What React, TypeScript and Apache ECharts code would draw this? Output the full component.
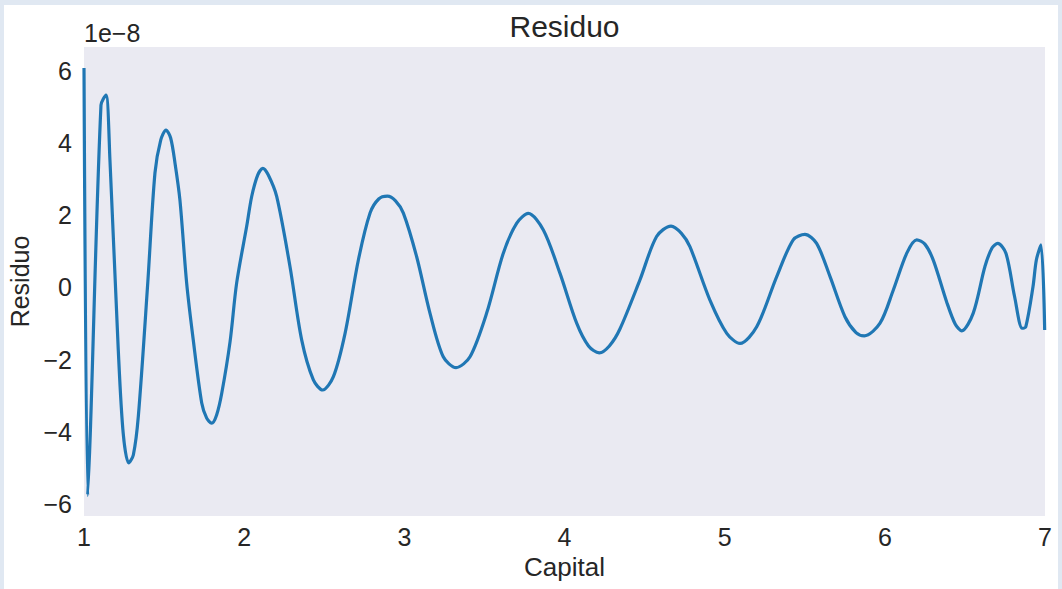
import React, { useEffect, useRef } from "react";
import * as echarts from "echarts";

// Capital grid (x) and residual values (in units of 1e-8)
const capital = [
  1.0, 1.023, 1.04, 1.106, 1.137, 1.162, 1.214, 1.245, 1.279, 1.308, 1.339,
  1.398, 1.443, 1.479, 1.512, 1.541, 1.568, 1.599, 1.641, 1.682, 1.735, 1.766,
  1.797, 1.828, 1.86, 1.912, 1.953, 2.016, 2.047, 2.085, 2.116, 2.15, 2.203,
  2.286, 2.359, 2.432, 2.49, 2.557, 2.63, 2.713, 2.786, 2.84, 2.894, 2.945,
  2.994, 3.077, 3.16, 3.243, 3.323, 3.41, 3.514, 3.618, 3.702, 3.774, 3.868,
  3.972, 4.076, 4.15, 4.217, 4.28, 4.346, 4.471, 4.575, 4.665, 4.73, 4.783,
  4.908, 5.013, 5.096, 5.2, 5.325, 5.428, 5.501, 5.574, 5.658, 5.751, 5.82,
  5.872, 5.97, 6.053, 6.137, 6.199, 6.25, 6.303, 6.386, 6.44, 6.48, 6.552,
  6.625, 6.67, 6.705, 6.756, 6.81, 6.858, 6.88, 6.925, 6.946, 6.975, 6.998,
];
const residuo = [
  6.08, -5.76, -3.95, 5.05, 5.33, 3.53, -1.73, -4.05, -4.86, -4.64, -3.58,
  0.12, 3.17, 4.08, 4.36, 4.14, 3.45, 2.42, 0.12, -1.45, -3.2, -3.62,
  -3.76, -3.53, -2.93, -1.5, 0.12, 1.7, 2.52, 3.12, 3.3, 3.12, 2.52,
  0.58, -1.45, -2.56, -2.84, -2.47, -1.27, 0.76, 2.06, 2.45, 2.53, 2.4,
  2.06, 0.85, -0.71, -1.92, -2.22, -1.92, -0.71, 0.95, 1.78, 2.05, 1.59,
  0.39, -0.99, -1.62, -1.81, -1.62, -1.15, 0.21, 1.41, 1.7, 1.5, 1.13,
  -0.35, -1.27, -1.55, -1.09, 0.3, 1.32, 1.47, 1.22, 0.3, -0.81, -1.25,
  -1.34, -0.99, -0.07, 0.95, 1.32, 1.2, 0.75, -0.4, -1.02, -1.2, -0.71,
  0.58, 1.1, 1.22, 0.95, -0.25, -1.13, -1.09, 0.02, 0.76, 1.18, -1.18,
];
const xTicks = [1, 2, 3, 4, 5, 6, 7];
const yTicks = [-6, -4, -2, 0, 2, 4, 6];
const offsetLabel = "1e\u22128";

const FONT = "'Liberation Sans', Arial, Helvetica, sans-serif";
const INK = "#262626";

export default function App() {
  const ref = useRef<HTMLDivElement>(null);

  useEffect(() => {
    if (!ref.current) return;
    const chart = echarts.init(ref.current, undefined, { renderer: "svg" });
    const minus = (v: number) => String(v).replace("-", "\u2212");

    chart.setOption({
      animation: false,
      backgroundColor: "transparent",
      textStyle: { fontFamily: FONT },
      grid: {
        left: 84,
        top: 47,
        right: 17,
        bottom: 73,
        show: true,
        backgroundColor: "#eaeaf2",
        borderWidth: 0,
        containLabel: false,
        outerBoundsMode: "none",
      },
      graphic: [
        {
          type: "rect",
          z: -10,
          silent: true,
          shape: { x: 4, y: 5, width: 1054, height: 584 },
          style: { fill: "#ffffff" },
        },
        {
          type: "text",
          x: 564.5,
          y: 26,
          style: {
            text: "Residuo",
            fill: INK,
            font: `30px ${FONT}`,
            textAlign: "center",
            textVerticalAlign: "middle",
          },
        },
        {
          type: "text",
          x: 84,
          y: 33,
          style: {
            text: offsetLabel,
            fill: INK,
            font: `25px ${FONT}`,
            textAlign: "left",
            textVerticalAlign: "middle",
          },
        },
      ],
      xAxis: {
        type: "value",
        min: 1,
        max: 7,
        interval: 1,
        name: "Capital",
        nameLocation: "middle",
        nameGap: 36,
        nameTextStyle: { color: INK, fontSize: 26, fontFamily: FONT },
        axisLine: { show: false },
        axisTick: { show: false },
        splitLine: { show: false },
        axisLabel: {
          color: INK,
          fontSize: 25,
          fontFamily: FONT,
          margin: 8,
          customValues: xTicks,
          formatter: (v: number) => minus(v),
        },
      },
      yAxis: {
        type: "value",
        min: -6.33,
        max: 6.66,
        name: "Residuo",
        nameLocation: "middle",
        nameGap: 42,
        nameRotate: 90,
        nameTextStyle: { color: INK, fontSize: 25, fontFamily: FONT },
        axisLine: { show: false },
        axisTick: { show: false },
        splitLine: { show: false },
        axisLabel: {
          color: INK,
          fontSize: 25,
          fontFamily: FONT,
          margin: 12,
          customValues: yTicks,
          formatter: (v: number) => minus(v),
        },
      },
      series: [
        {
          type: "line",
          data: capital.map((x, i) => [x, residuo[i]]),
          showSymbol: false,
          smooth: 0.3,
          clip: true,
          lineStyle: { color: "#2077b4", width: 3.2 },
        },
      ],
    });

    return () => chart.dispose();
  }, []);

  return (
    <div
      style={{
        position: "fixed",
        left: 0,
        top: 0,
        width: 1062,
        height: 589,
        background: "#e0e8f2",
      }}
    >
      <div ref={ref} style={{ width: 1062, height: 589 }} />
    </div>
  );
}
